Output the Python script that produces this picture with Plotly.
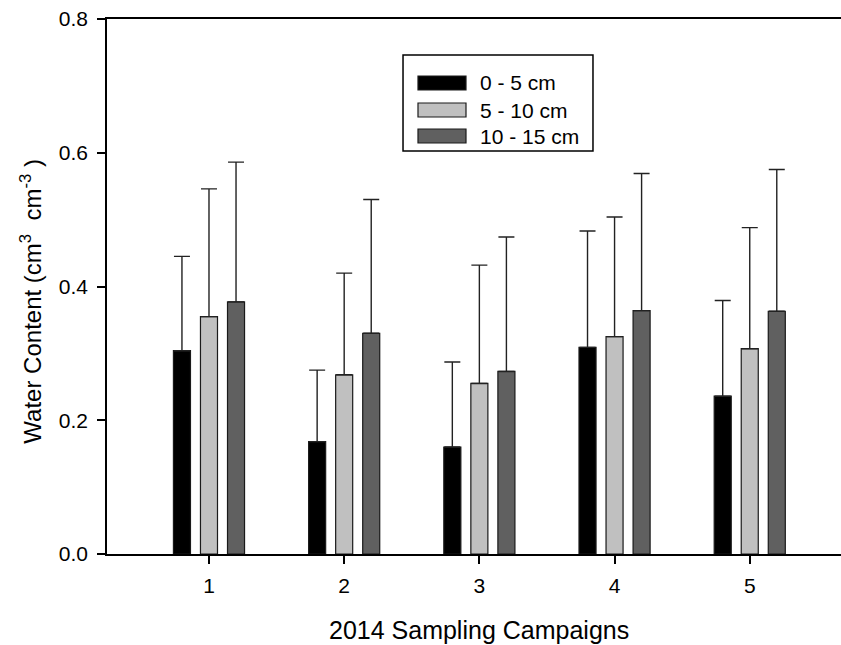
import plotly.graph_objects as go

campaigns = [1, 2, 3, 4, 5]
depth_labels = ["0 - 5 cm", "5 - 10 cm", "10 - 15 cm"]
depth_colors = ["#000000", "#c0c0c0", "#606060"]

mean_0_5 = [0.304, 0.168, 0.160, 0.309, 0.236]
mean_5_10 = [0.355, 0.268, 0.255, 0.325, 0.307]
mean_10_15 = [0.377, 0.330, 0.273, 0.364, 0.363]

upper_0_5 = [0.445, 0.275, 0.287, 0.483, 0.379]
upper_5_10 = [0.546, 0.420, 0.432, 0.504, 0.488]
upper_10_15 = [0.586, 0.530, 0.474, 0.569, 0.575]

means = [mean_0_5, mean_5_10, mean_10_15]
uppers = [upper_0_5, upper_5_10, upper_10_15]

FONT = "Liberation Sans, Arial, sans-serif"
bar_w = 0.126
centers = [-0.2, 0.0, 0.2]

fig = go.Figure()
for lab, col, m, u, c in zip(depth_labels, depth_colors, means, uppers, centers):
    err = [uu - mm for uu, mm in zip(u, m)]
    fig.add_trace(go.Bar(
        x=campaigns, y=m, name=lab,
        width=bar_w, offset=c - bar_w / 2,
        marker=dict(color=col, line=dict(color="#1a1a1a", width=1.2)),
        error_y=dict(type="data", symmetric=False, array=err,
                     arrayminus=[0] * len(err), color="#222222",
                     thickness=1.4, width=8),
        showlegend=False,
    ))

# custom legend (box, swatches, labels) in paper coordinates
fig.add_shape(type="rect", xref="paper", yref="paper",
              x0=0.4033, x1=0.6621, y0=0.7533, y1=0.9327,
              line=dict(color="black", width=1.5), fillcolor="white")
row_y = [0.8804, 0.8299, 0.7813]
for lab, col, ry in zip(depth_labels, depth_colors, row_y):
    fig.add_shape(type="rect", xref="paper", yref="paper",
                  x0=0.4237, x1=0.4891, y0=ry - 0.0131, y1=ry + 0.0131,
                  line=dict(color="#1a1a1a", width=1.2), fillcolor=col)
    fig.add_annotation(xref="paper", yref="paper", x=0.5054, y=ry,
                       text=lab, showarrow=False, xanchor="left",
                       yanchor="middle",
                       font=dict(family=FONT, size=21, color="black"))

# axis titles
fig.add_annotation(xref="paper", yref="paper", x=0.5068, y=-0.142,
                   text="2014 Sampling Campaigns", showarrow=False,
                   xanchor="center", yanchor="middle",
                   font=dict(family=FONT, size=25, color="black"))
fig.add_annotation(xref="paper", yref="paper", x=-0.104, y=0.4729,
                   text="Water Content (cm<sup>3</sup>&nbsp;&nbsp;cm<sup>-3</sup>&nbsp;)",
                   textangle=-90, showarrow=False,
                   xanchor="center", yanchor="middle",
                   font=dict(family=FONT, size=24, color="black"))

fig.update_layout(
    width=841, height=645,
    margin=dict(l=107, r=0, t=19, b=91),
    paper_bgcolor="white", plot_bgcolor="white",
    barmode="overlay",
    font=dict(family=FONT, color="black"),
    xaxis=dict(
        range=[0.2456, 5.675], tickmode="array", tickvals=campaigns,
        ticktext=[str(c) for c in campaigns],
        ticks="outside", ticklen=8, tickwidth=1.5, tickcolor="black",
        showline=True, linecolor="black", linewidth=1.5, mirror=True,
        showgrid=False, zeroline=False, ticklabelstandoff=4,
        tickfont=dict(family=FONT, size=21),
    ),
    yaxis=dict(
        range=[0, 0.8], tickmode="array",
        tickvals=[0, 0.2, 0.4, 0.6, 0.8],
        ticktext=["0.0", "0.2", "0.4", "0.6", "0.8"],
        ticks="outside", ticklen=8, tickwidth=1.5, tickcolor="black",
        showline=True, linecolor="black", linewidth=1.5,
        showgrid=False, zeroline=False, ticklabelstandoff=5,
        tickfont=dict(family=FONT, size=21),
    ),
)

fig.write_html("out.html")
